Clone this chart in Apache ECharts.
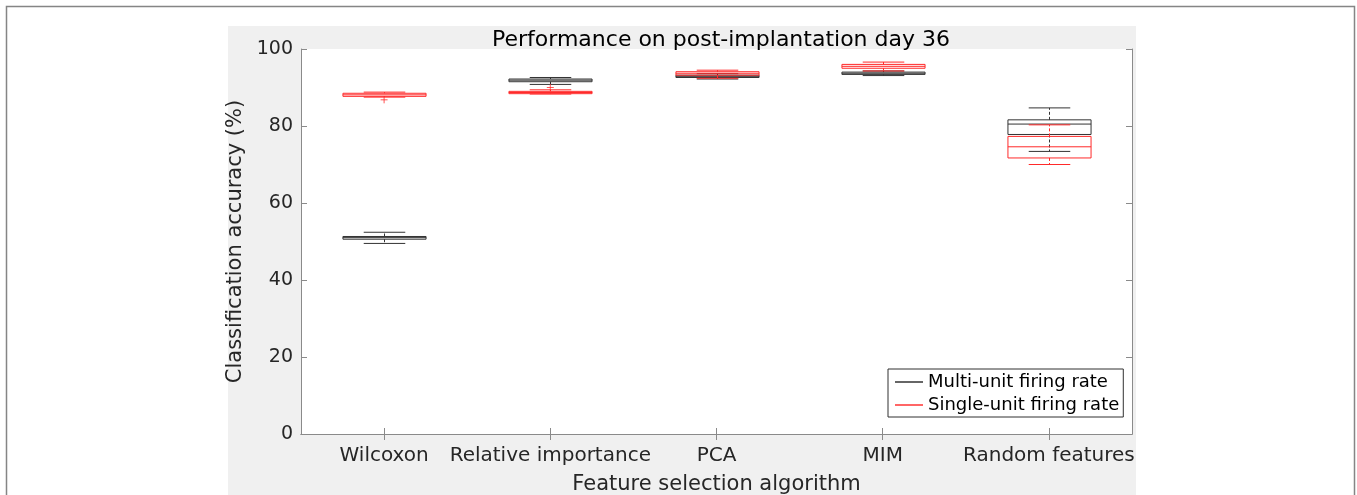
<!DOCTYPE html>
<html>
<head>
<meta charset="utf-8">
<script src="https://cdn.jsdelivr.net/npm/echarts@6/dist/echarts.min.js"></script>
<style>
  html, body { margin: 0; padding: 0; background: #fff; }
  #chart { width: 1357px; height: 495px; }
</style>
</head>
<body>
<div id="chart"></div>
<script>
// ---- data ----
const categories = ['Wilcoxon', 'Relative importance', 'PCA', 'MIM', 'Random features'];
// [min, q1, median, q3, max]
const multiUnit = [
  [49.5, 50.6, 51.0, 51.3, 52.4],
  [90.8, 91.5, 91.9, 92.2, 92.6],
  [92.2, 92.6, 92.9, 93.2, 93.6],
  [93.1, 93.4, 93.7, 94.0, 94.3],
  [73.4, 77.8, 80.5, 81.6, 84.7]
];
const singleUnit = [
  [87.5, 87.7, 88.1, 88.5, 88.8],
  [88.3, 88.4, 88.7, 89.0, 89.4],
  [92.4, 93.2, 93.7, 94.1, 94.5],
  [94.3, 95.0, 95.5, 96.0, 96.6],
  [70.0, 71.7, 74.6, 77.3, 80.3]
];
// outliers: [category index, value]
const multiOutliers = [];
const singleOutliers = [[0, 86.8], [1, 90.0]];
const yTicks = [0, 20, 40, 60, 80, 100];

const seriesNames = ['Multi-unit firing rate', 'Single-unit firing rate'];
const colors = ['#333333', '#ff2a2a'];
const FONT = 'DejaVu Sans';

function toRows(stats) {
  return stats.map((s, i) => [i].concat(s));
}

function makeRender(color) {
  return function (params, api) {
    const x = api.value(0);
    const vMin = api.value(1), vQ1 = api.value(2), vMed = api.value(3), vQ3 = api.value(4), vMax = api.value(5);
    const cw = api.size([1, 0])[0];
    const bw = cw * 0.5;
    const capW = cw * 0.25;
    const pMin = api.coord([x, vMin]);
    const pQ1 = api.coord([x, vQ1]);
    const pMed = api.coord([x, vMed]);
    const pQ3 = api.coord([x, vQ3]);
    const pMax = api.coord([x, vMax]);
    const cx = Math.round(pMed[0]) + 0.5;
    const st = { stroke: color, lineWidth: 1, fill: 'none' };
    const dash = { stroke: color, lineWidth: 1, lineDash: [3, 2], fill: 'none' };
    return {
      type: 'group',
      children: [
        { type: 'line', shape: { x1: cx, y1: pQ3[1], x2: cx, y2: pMax[1] }, style: dash },
        { type: 'line', shape: { x1: cx, y1: pQ1[1], x2: cx, y2: pMin[1] }, style: dash },
        { type: 'line', shape: { x1: cx - capW / 2, y1: pMax[1], x2: cx + capW / 2, y2: pMax[1] }, style: st },
        { type: 'line', shape: { x1: cx - capW / 2, y1: pMin[1], x2: cx + capW / 2, y2: pMin[1] }, style: st },
        { type: 'rect', shape: { x: cx - bw / 2, y: pQ3[1], width: bw, height: pQ1[1] - pQ3[1] }, style: st },
        { type: 'line', shape: { x1: cx - bw / 2, y1: pMed[1], x2: cx + bw / 2, y2: pMed[1] }, style: st }
      ]
    };
  };
}

const chart = echarts.init(document.getElementById('chart'), null, { renderer: 'canvas' });

const axisLineStyle = { color: '#8a8a8a', width: 1 };

chart.setOption({
  animation: false,
  backgroundColor: '#ffffff',
  textStyle: { fontFamily: FONT },
  title: {
    text: 'Performance on post-implantation day 36',
    left: 716, top: 24, textAlign: 'center',
    textStyle: { fontFamily: FONT, fontSize: 22, fontWeight: 'normal', color: '#000' }
  },
  graphic: [
    { type: 'rect', z: -10, silent: true, shape: { x: 6.5, y: 6.5, width: 1348, height: 520 },
      style: { fill: '#ffffff', stroke: '#858585', lineWidth: 1.5 } },
    { type: 'rect', z: -9, silent: true, shape: { x: 228, y: 26, width: 908, height: 480 },
      style: { fill: '#f0f0f0' } }
  ],
  grid: {
    left: 301, top: 49, width: 831, height: 385,
    outerBoundsMode: 'none', containLabel: false,
    show: true, backgroundColor: '#ffffff', borderWidth: 0
  },
  legend: {
    data: seriesNames,
    orient: 'vertical',
    left: 888, top: 369,
    padding: [4, 4, 3, 7],
    itemGap: 5,
    itemWidth: 28, itemHeight: 1.2,
    icon: 'rect',
    backgroundColor: '#ffffff',
    borderColor: '#303030', borderWidth: 1, borderRadius: 0,
    textStyle: { fontFamily: FONT, fontSize: 18, color: '#000' }
  },
  xAxis: [
    {
      type: 'category', data: categories, position: 'bottom', boundaryGap: true,
      name: 'Feature selection algorithm', nameLocation: 'middle', nameGap: 40,
      nameTextStyle: { fontFamily: FONT, fontSize: 21, color: '#262626' },
      axisLine: { show: true, lineStyle: axisLineStyle },
      axisTick: { show: true, inside: true, length: 6, alignWithLabel: true, lineStyle: axisLineStyle },
      axisLabel: { fontFamily: FONT, fontSize: 20, color: '#262626', margin: 12, interval: 0 },
      splitLine: { show: false }
    },
    {
      type: 'category', data: categories, position: 'top', boundaryGap: true,
      axisLine: { show: true, lineStyle: axisLineStyle },
      axisTick: { show: true, inside: true, length: 6, alignWithLabel: true, lineStyle: axisLineStyle },
      axisLabel: { show: false },
      splitLine: { show: false }
    }
  ],
  yAxis: [
    {
      type: 'value', min: yTicks[0], max: yTicks[yTicks.length - 1], interval: 20, position: 'left',
      name: 'Classification accuracy (%)', nameLocation: 'middle', nameGap: 52, nameRotate: 90,
      nameTextStyle: { fontFamily: FONT, fontSize: 21, color: '#262626' },
      axisLine: { show: true, lineStyle: axisLineStyle },
      axisTick: { show: true, inside: true, length: 6, lineStyle: axisLineStyle },
      axisLabel: { fontFamily: FONT, fontSize: 19, color: '#262626', margin: 8 },
      splitLine: { show: false }
    },
    {
      type: 'value', min: yTicks[0], max: yTicks[yTicks.length - 1], interval: 20, position: 'right',
      axisLine: { show: true, lineStyle: axisLineStyle },
      axisTick: { show: true, inside: true, length: 6, lineStyle: axisLineStyle },
      axisLabel: { show: false },
      splitLine: { show: false }
    }
  ],
  series: [
    {
      name: seriesNames[0], type: 'custom', xAxisIndex: 0, yAxisIndex: 0,
      itemStyle: { color: '#000000' },
      renderItem: makeRender(colors[0]),
      encode: { x: 0, y: [1, 2, 3, 4, 5] },
      data: toRows(multiUnit), z: 2
    },
    {
      name: seriesNames[1], type: 'custom', xAxisIndex: 0, yAxisIndex: 0,
      itemStyle: { color: '#ff0000' },
      renderItem: makeRender(colors[1]),
      encode: { x: 0, y: [1, 2, 3, 4, 5] },
      data: toRows(singleUnit), z: 3
    },
    {
      name: 'multi outliers', type: 'scatter', xAxisIndex: 0, yAxisIndex: 0,
      symbol: 'path://M5,0 L5,10 M0,5 L10,5', symbolSize: 7,
      itemStyle: { color: 'transparent', borderColor: colors[0], borderWidth: 1 },
      data: multiOutliers, z: 4
    },
    {
      name: 'single outliers', type: 'scatter', xAxisIndex: 0, yAxisIndex: 0,
      symbol: 'path://M5,0 L5,10 M0,5 L10,5', symbolSize: 7,
      itemStyle: { color: 'transparent', borderColor: colors[1], borderWidth: 1 },
      data: singleOutliers, z: 4
    }
  ]
});
</script>
</body>
</html>
